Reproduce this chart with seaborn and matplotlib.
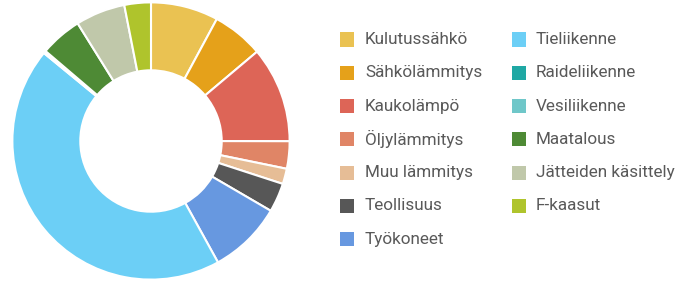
import matplotlib
matplotlib.use("Agg")
import matplotlib.pyplot as plt
from matplotlib.patches import Rectangle
import seaborn as sns

categories = ["Kulutussähkö", "Sähkölämmitys", "Kaukolämpö", "Öljylämmitys",
              "Muu lämmitys", "Teollisuus", "Työkoneet", "Tieliikenne",
              "Raideliikenne", "Vesiliikenne", "Maatalous", "Jätteiden käsittely",
              "F-kaasut"]
values = [7.9, 6.0, 11.2, 3.2, 1.8, 3.4, 8.6, 44.1, 0.15, 0.15, 4.9, 5.8, 3.1]
colors = ["#EAC252", "#E5A11A", "#DD6557", "#E08566", "#E6BD96", "#575757",
          "#6798E0", "#6CCFF6", "#1FA8A4", "#6FC7C9", "#4E8A35", "#C0C8AA",
          "#AFC42C"]

sns.set_theme(style="white")
plt.rcParams['font.family'] = ['Roboto', 'DejaVu Sans']

W, H = 683, 291
fig = plt.figure(figsize=(W / 100, H / 100), dpi=100)

cx, cy, r = 151, 141, 140
ax = fig.add_axes([(cx - r) / W, (H - cy - r) / H, 2 * r / W, 2 * r / H])
ax.pie(values, colors=colors, startangle=90, counterclock=False, radius=1,
       wedgeprops=dict(width=0.49, edgecolor="white", linewidth=1.5))
ax.set_xlim(-1.01, 1.01)
ax.set_ylim(-1.01, 1.01)
ax.set_aspect("equal")
ax.axis("off")

# legend (two columns, column-major)
col_x = [340, 512]
text_x = [365, 536]
row0 = 39.5
dy = 33.3
sw = 14
for i, (lab, col) in enumerate(zip(categories, colors)):
    c = 0 if i < 7 else 1
    rrow = i if i < 7 else i - 7
    yc = row0 + rrow * dy
    fig.patches.append(Rectangle((col_x[c] / W, (H - yc - sw / 2) / H), sw / W, sw / H,
                                 transform=fig.transFigure, facecolor=col,
                                 edgecolor="none"))
    fig.text(text_x[c] / W, (H - yc) / H, lab, fontsize=12.3, color="#595959",
             va="center", ha="left")

fig.savefig("out.png", dpi=100, facecolor="white")
